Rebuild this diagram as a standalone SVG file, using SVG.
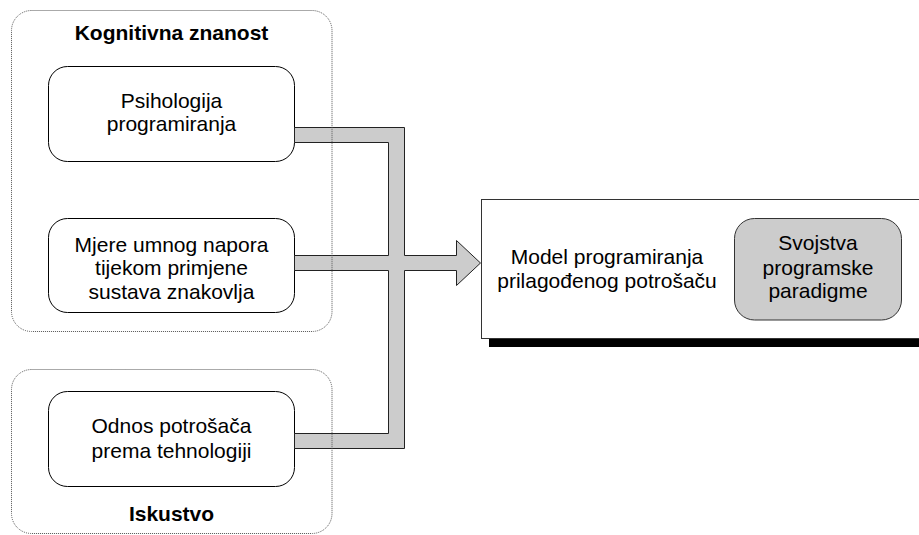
<svg xmlns="http://www.w3.org/2000/svg" width="919" height="535" viewBox="0 0 919 535">
<style>
text{font-family:"Liberation Sans",Arial,sans-serif;font-size:21px;fill:#000;text-anchor:middle}
.b{font-weight:bold}
.outer{fill:none;stroke:#555;stroke-width:1;stroke-dasharray:1 1}
.inner{fill:#fff;stroke:#000;stroke-width:1}
.gray{fill:#cccccc;stroke:#333;stroke-width:1}
.conn{fill:#cccccc;stroke:#222;stroke-width:1;stroke-linejoin:miter}
</style>
<rect width="919" height="535" fill="#fff"/>
<g id="n-psihologija">
<rect class="inner" x="48.5" y="66.5" width="246" height="95" rx="19"/>
<text x="171.5" y="107.5">Psihologija</text>
<text x="171.5" y="131">programiranja</text>
</g>
<g id="n-mjere">
<rect class="inner" x="48.5" y="218.5" width="246" height="94" rx="19"/>
<text x="171.5" y="251.5">Mjere umnog napora</text>
<text x="171.5" y="275">tijekom primjene</text>
<text x="171.5" y="298.5">sustava znakovlja</text>
</g>
<g id="n-odnos">
<rect class="inner" x="48.5" y="391.5" width="246" height="95" rx="19"/>
<text x="171.5" y="433">Odnos potrošača</text>
<text x="171.5" y="457.5">prema tehnologiji</text>
</g>
<g id="connectors">
<polygon class="conn" points="294.5,127.5 404.5,127.5 404.5,255.5 456.5,255.5 456.5,240.5 480.5,263 456.5,285.5 456.5,270.5 404.5,270.5 404.5,448.5 294.5,448.5 294.5,433.5 388.5,433.5 388.5,270.5 294.5,270.5 294.5,255.5 388.5,255.5 388.5,142.5 294.5,142.5"/>
</g>
<g id="n-kognitivna">
<rect class="outer" x="11.5" y="10.5" width="320.5" height="321" rx="20"/>
<text class="b" x="171.5" y="40">Kognitivna znanost</text>
</g>
<g id="n-iskustvo">
<rect class="outer" x="11.5" y="369.5" width="320.5" height="164" rx="20"/>
<text class="b" x="171.5" y="521">Iskustvo</text>
</g>
<g id="n-model">
<rect x="489" y="339" width="440" height="8" fill="#000"/>
<rect x="481.5" y="199.5" width="450" height="139" fill="#fff" stroke="#333" stroke-width="1"/>
<text x="607" y="264">Model programiranja</text>
<text x="607" y="288">prilagođenog potrošaču</text>
<g id="n-svojstva">
<rect class="gray" x="734.5" y="218.5" width="167" height="101.5" rx="20"/>
<text x="818" y="250">Svojstva</text>
<text x="818" y="274.5">programske</text>
<text x="818" y="298">paradigme</text>
</g>
</g>
</svg>
